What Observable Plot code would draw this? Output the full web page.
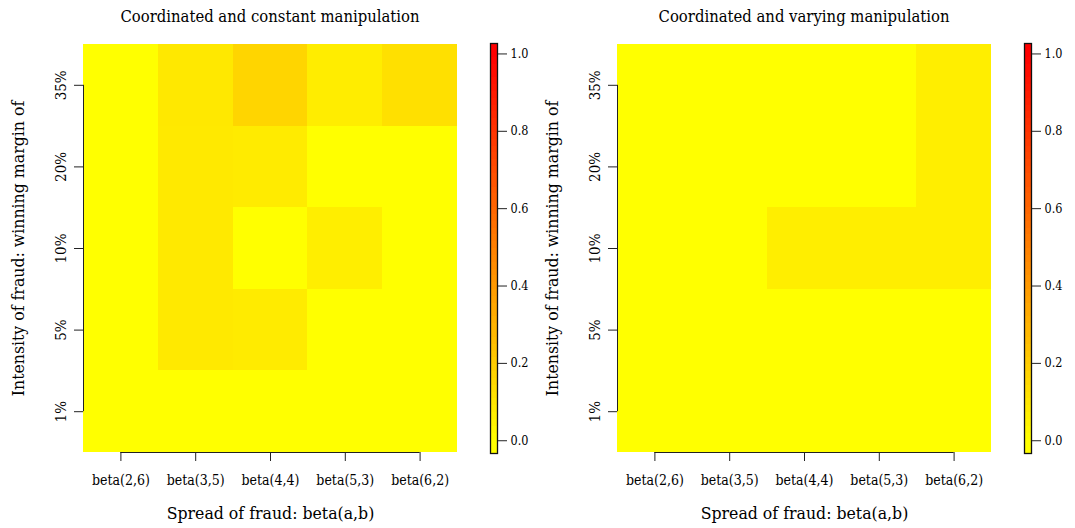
<!DOCTYPE html>
<html>
<head>
<meta charset="utf-8">
<script src="https://cdn.jsdelivr.net/npm/d3@7"></script>
<script src="https://cdn.jsdelivr.net/npm/@observablehq/plot@0.6"></script>
<style>
  body { margin: 0; background: #fff; overflow: hidden; }
  #chart { position: relative; width: 1075px; height: 528px; overflow: hidden;
           font-family: "DejaVu Serif Condensed", "DejaVu Serif", serif; color: #000; }
  #chart svg { position: absolute; top: 0; }
  .title { position: absolute; top: 8px; font-size: 16.5px; line-height: 18px;
           white-space: nowrap; transform: translateX(-50%); }
</style>
</head>
<body>
<div id="chart"></div>
<script>
// Categories: spread of fraud (columns) and intensity of fraud (rows, bottom to top)
const spreads = ["beta(2,6)", "beta(3,5)", "beta(4,4)", "beta(5,3)", "beta(6,2)"];
const intensities = ["1%", "5%", "10%", "20%", "35%"];

// Share per cell, one row per intensity (1% first), one column per spread
const constantShare = [
  [0, 0,     0,     0,    0],
  [0, 0.085, 0.08,  0,    0],
  [0, 0.085, 0,     0.065, 0],
  [0, 0.085, 0.08,  0,    0],
  [0, 0.09,  0.165, 0.07, 0.12]
];
const varyingShare = [
  [0, 0, 0,     0,     0],
  [0, 0, 0,     0,     0],
  [0, 0, 0.065, 0.065, 0.065],
  [0, 0, 0,     0,     0.065],
  [0, 0, 0,     0,     0.065]
];

const panelTitles = ["Coordinated and constant manipulation", "Coordinated and varying manipulation"];
const xTitle = "Spread of fraud: beta(a,b)";
const yTitle = "Intensity of fraud: winning margin of";
const legendTicks = [0, 0.2, 0.4, 0.6, 0.8, 1.0];
const legendExtent = [-0.033, 1.027];

const fontFamily = '"DejaVu Serif Condensed", "DejaVu Serif", serif';
const colorScale = {type: "linear", domain: [0, 1], range: ["#ffff00", "#ff0000"], interpolate: "rgb", clamp: true};

function heatmap(values, width) {
  const cells = values.flatMap((row, yi) => row.map((v, xi) => ({xi, yi, v})));
  const nx = spreads.length, ny = intensities.length;
  return Plot.plot({
    width, height: 528,
    marginLeft: 83, marginRight: width - 457, marginTop: 44, marginBottom: 76,
    style: {fontFamily, fontSize: "14px", color: "#000", background: "transparent"},
    x: {domain: [-0.5, nx - 0.5]},
    y: {domain: [-0.5, ny - 0.5]},
    color: colorScale,
    marks: [
      Plot.rect(cells, {
        x1: d => d.xi - 0.5, x2: d => d.xi + 0.5,
        y1: d => d.yi - 0.5, y2: d => d.yi + 0.5,
        fill: "v", shapeRendering: "crispEdges"
      }),
      Plot.ruleY([-0.5], {x1: 0, x2: nx - 1, stroke: "#222"}),
      Plot.ruleX([-0.5], {y1: 0, y2: ny - 1, stroke: "#222"}),
      Plot.axisX({ticks: d3.range(nx), tickFormat: i => spreads[i], tickSize: 9, tickPadding: 14, label: null, stroke: "#222"}),
      Plot.axisY({ticks: d3.range(ny), tickFormat: i => intensities[i], tickSize: 9, tickRotate: -90, tickPadding: 9, label: null, stroke: "#222", fontSize: 15}),
      Plot.text([xTitle], {frameAnchor: "bottom", dy: 66, fontSize: 17.5}),
      Plot.text([yTitle], {frameAnchor: "left", textAnchor: "middle", dx: -65, rotate: -90, fontSize: 17.5})
    ]
  });
}

function colorbar() {
  const [lo, hi] = legendExtent;
  const n = 60, step = (hi - lo) / n;
  const levels = d3.range(n).map(i => ({y1: lo + i * step, y2: lo + (i + 1) * step}));
  return Plot.plot({
    width: 70, height: 528,
    marginLeft: 10, marginRight: 53, marginTop: 43, marginBottom: 75,
    style: {fontFamily, fontSize: "12.5px", color: "#000", background: "transparent"},
    x: {domain: [0, 1], axis: null},
    y: {domain: legendExtent},
    color: colorScale,
    marks: [
      Plot.rect(levels, {x1: 0, x2: 1, y1: "y1", y2: "y2", fill: d => (d.y1 + d.y2) / 2, shapeRendering: "crispEdges"}),
      Plot.frame({stroke: "#111", strokeWidth: 1.3}),
      Plot.axisY({anchor: "right", ticks: legendTicks, tickFormat: ".1f", tickSize: 9, tickPadding: 4, label: null, stroke: "#222"})
    ]
  });
}

const chart = document.getElementById("chart");
const panels = [
  {values: constantShare, left: 0, width: 534},
  {values: varyingShare, left: 534, width: 541}
];
panels.forEach((p, k) => {
  const svg = heatmap(p.values, p.width);
  svg.style.left = p.left + "px";
  chart.appendChild(svg);
  const bar = colorbar();
  bar.style.left = (p.left + 480) + "px";
  chart.appendChild(bar);
  const t = document.createElement("div");
  t.className = "title";
  t.textContent = panelTitles[k];
  t.style.left = (p.left + 270) + "px";
  chart.appendChild(t);
});
</script>
</body>
</html>
